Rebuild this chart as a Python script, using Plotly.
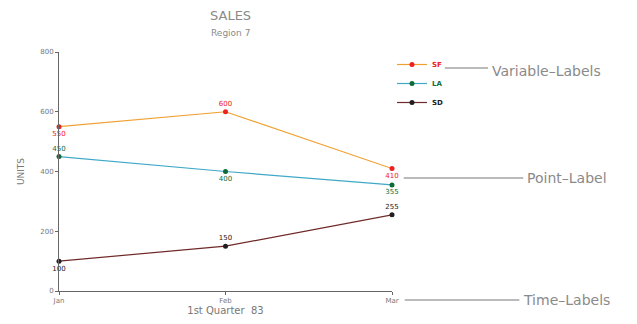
import plotly.graph_objects as go

# data
months = ["Jan", "Feb", "Mar"]
sf = [550, 600, 410]
la = [450, 400, 355]
sd = [100, 150, 255]
y_ticks = [0, 200, 400, 600, 800]

FONT = "DejaVu Sans"
GREY = "#8a8a8a"

# the page body adds an 8px margin, so positions are given in screen px and shifted
OFF = 8
L, R, T, B = 52, 392, 52, 291          # plot area on screen
W, H = 637, 324


def px(x):
    return (x - L) / (R - L)


def py(y):
    return (B - y) / (B - T)


fig = go.Figure()

series = [
    ("SF", sf, "#f0a030", "#ee2020", ["bottom center", "top center", "bottom center"]),
    ("LA", la, "#40a8c8", "#0d6b3a", ["top center", "bottom center", "bottom center"]),
    ("SD", sd, "#702828", "#202020", ["bottom center", "top center", "top center"]),
]

for name, vals, lcol, mcol, pos in series:
    fig.add_trace(go.Scatter(
        x=months, y=vals,
        mode="lines+markers+text",
        name="<b><span style='color:%s'>%s</span></b>" % (mcol, name),
        line=dict(color=lcol, width=1.2),
        marker=dict(color=mcol, size=5),
        text=[str(v) for v in vals],
        textposition=pos,
        textfont=dict(family=FONT, size=7, color=mcol),
        cliponaxis=False,
    ))

fig.update_layout(
    width=W, height=H,
    margin=dict(l=L - OFF, r=W - R + OFF, t=T - OFF, b=H - B + OFF),
    paper_bgcolor="white", plot_bgcolor="white",
    font=dict(family=FONT, color=GREY, size=8),
    showlegend=True,
    legend=dict(x=px(392), y=py(50), xanchor="left", yanchor="top",
                bgcolor="rgba(0,0,0,0)", font=dict(size=7),
                itemwidth=30, tracegroupgap=0),
    xaxis=dict(
        range=[0, 2], showgrid=False, zeroline=False,
        showline=True, linecolor="#666", linewidth=1,
        ticks="outside", ticklen=3, tickcolor="#666",
        tickfont=dict(size=7, color="#777"),
        title=dict(text="1st Quarter  83", font=dict(size=10, color="#777"), standoff=2),
    ),
    yaxis=dict(
        range=[0, 800], tickvals=y_ticks, showgrid=False, zeroline=False,
        showline=True, linecolor="#666", linewidth=1,
        ticks="outside", ticklen=3, tickcolor="#666",
        tickfont=dict(size=7, color="#777"),
        title=dict(text="UNITS", font=dict(size=9, color="#777"), standoff=14),
    ),
)

annotations = [
    dict(text="SALES", x=px(227), y=py(15), font=dict(size=13, color=GREY)),
    dict(text="Region 7", x=px(227), y=py(33), font=dict(size=9, color=GREY)),
    dict(text="Variable\u2013Labels", x=px(492), y=py(71), xanchor="left",
         font=dict(size=14, color=GREY)),
    dict(text="Point\u2013Label", x=px(528), y=py(178), xanchor="left",
         font=dict(size=14, color=GREY)),
    dict(text="Time\u2013Labels", x=px(524), y=py(300), xanchor="left",
         font=dict(size=14, color=GREY)),
]
for a in annotations:
    a.update(xref="paper", yref="paper", showarrow=False, yanchor="middle")
    a.setdefault("xanchor", "center")
    fig.add_annotation(**a)

# call-out lines
for x0, x1, y in [(446, 490, 68), (404, 526, 178), (405, 522, 300)]:
    fig.add_shape(type="line", xref="paper", yref="paper",
                  x0=px(x0), x1=px(x1), y0=py(y), y1=py(y),
                  line=dict(color="#777", width=1))

fig.write_html("out.html")
